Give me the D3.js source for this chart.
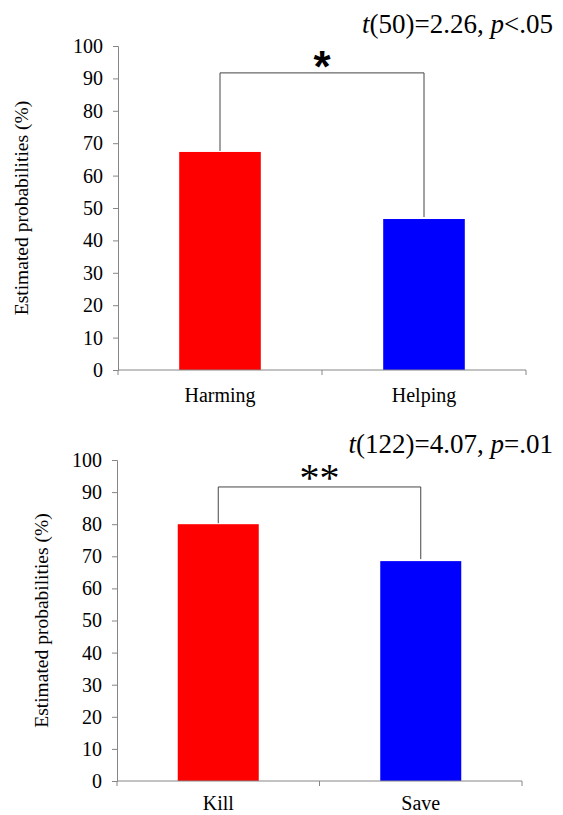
<!DOCTYPE html>
<html>
<head>
<meta charset="utf-8">
<script src="https://cdn.jsdelivr.net/npm/d3@7"></script>
<style>
  body { margin: 0; background: #fff; }
  text { font-family: "Liberation Serif", "Times New Roman", serif; fill: #000; }
</style>
</head>
<body>
<div id="chart"></div>
<script>
// data
var topCategories = ["Harming", "Helping"];
var topValues = [67.3, 46.6];
var topBracket = 91.7;
var topStars = "*";

var bottomCategories = ["Kill", "Save"];
var bottomValues = [80, 68.5];
var bottomBracket = 91.6;
var bottomStars = "**";

var yTicks = [0, 10, 20, 30, 40, 50, 60, 70, 80, 90, 100];
var barColors = ["#ff0000", "#0000ff"];
var yLabel = "Estimated probabilities (%)";

var serif = "Liberation Serif";
var svgWidth = 563;
var svgHeight = 815;

var svg = d3.select("#chart")
    .append("svg")
    .attr("width", svgWidth)
    .attr("height", svgHeight)
    .attr("font-family", serif);

// draw one panel
function drawPanel(opt) {
    var x = d3.scaleBand()
        .domain(opt.categories)
        .range([opt.left, opt.right])
        .paddingInner(0.6)
        .paddingOuter(0.3);

    var y = d3.scaleLinear()
        .domain([0, 100])
        .range([opt.bottom, opt.top]);

    var g = svg.append("g");

    // bars
    g.selectAll(".bar")
        .data(opt.values)
        .enter()
        .append("rect")
        .attr("x", (d, i) => x(opt.categories[i]))
        .attr("y", d => y(d))
        .attr("width", x.bandwidth())
        .attr("height", d => opt.bottom - y(d))
        .attr("fill", (d, i) => barColors[i]);

    // y axis
    var yAxis = g.append("g")
        .attr("transform", `translate(${opt.left}, 0)`)
        .call(d3.axisLeft(y).tickValues(yTicks).tickSize(5).tickPadding(10))
        .attr("font-family", serif)
        .attr("font-size", 20);
    yAxis.selectAll("line, path").attr("stroke", "#868686");
    yAxis.selectAll("text")
        .style("font-family", serif)
        .style("font-size", "20px");

    // x axis, ticks between categories
    var xAxis = g.append("g")
        .attr("transform", `translate(0, ${opt.bottom})`);
    xAxis.append("line")
        .attr("x1", opt.left).attr("x2", opt.right)
        .attr("stroke", "#868686");
    var xb = d3.scaleLinear().domain([0, opt.categories.length]).range([opt.left, opt.right]);
    xAxis.selectAll(".xt")
        .data(d3.range(opt.categories.length + 1))
        .enter()
        .append("line")
        .attr("x1", d => xb(d)).attr("x2", d => xb(d))
        .attr("y1", 0).attr("y2", 5)
        .attr("stroke", "#868686");
    xAxis.selectAll(".xl")
        .data(opt.categories)
        .enter()
        .append("text")
        .attr("x", d => x(d) + x.bandwidth() / 2)
        .attr("y", opt.xLabelY)
        .attr("text-anchor", "middle")
        .style("font-family", serif)
        .style("font-size", "20px")
        .text(d => d);

    // y label
    g.append("text")
        .attr("transform", `translate(${opt.labelX}, ${(opt.top + opt.bottom) / 2}) rotate(-90)`)
        .attr("text-anchor", "middle")
        .style("font-family", serif)
        .style("font-size", "19.5px")
        .text(yLabel);

    // significance bracket
    var cx0 = x(opt.categories[0]) + x.bandwidth() / 2;
    var cx1 = x(opt.categories[1]) + x.bandwidth() / 2;
    var by = y(opt.bracket);
    g.append("path")
        .attr("d", `M${cx0},${y(opt.values[0]) - 1}V${by}H${cx1}V${y(opt.values[1]) - 2}`)
        .attr("fill", "none")
        .attr("stroke", "#444")
        .attr("stroke-width", 1);

    g.append("text")
        .attr("x", (cx0 + cx1) / 2)
        .attr("y", by + opt.starDy)
        .attr("text-anchor", "middle")
        .style("font-family", opt.starFont)
        .style("font-weight", opt.starWeight)
        .style("font-size", opt.starSize)
        .text(opt.stars);

    // statistic
    var st = g.append("text")
        .attr("x", 553)
        .attr("y", opt.statY)
        .attr("text-anchor", "end")
        .style("font-family", serif)
        .style("font-size", "27px");
    opt.stat.forEach(function(p) {
        st.append("tspan")
            .style("font-style", p[1] ? "italic" : "normal")
            .text(p[0]);
    });
}

drawPanel({
    categories: topCategories, values: topValues, bracket: topBracket, stars: topStars,
    left: 118, right: 526, top: 46, bottom: 370, labelX: 28, xLabelY: 32,
    starDy: 9, starFont: "Liberation Sans", starWeight: "bold", starSize: "44px",
    statY: 33,
    stat: [["t", true], ["(50)=2.26, ", false], ["p", true], ["<.05", false]]
});

drawPanel({
    categories: bottomCategories, values: bottomValues, bracket: bottomBracket, stars: bottomStars,
    left: 117, right: 522, top: 460, bottom: 781, labelX: 48, xLabelY: 29,
    starDy: 4, starFont: "Liberation Serif", starWeight: "normal", starSize: "40px",
    statY: 453,
    stat: [["t", true], ["(122)=4.07, ", false], ["p", true], ["=.01", false]]
});
</script>
</body>
</html>
